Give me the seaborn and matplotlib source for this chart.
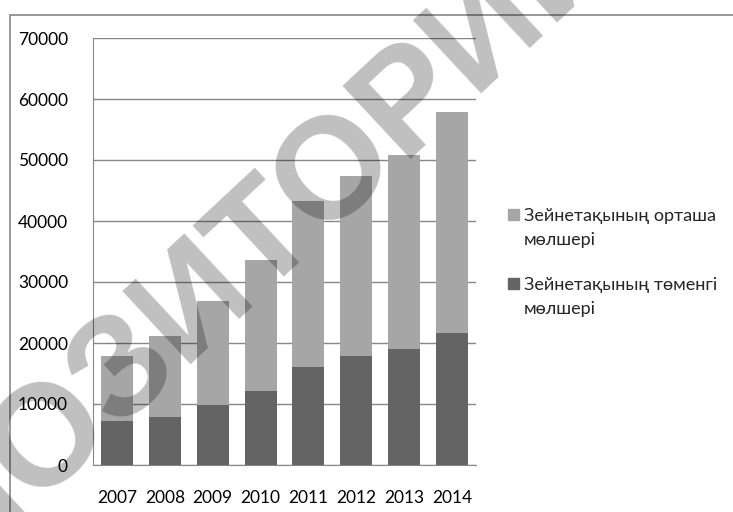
import numpy as np
import pandas as pd
import seaborn as sns
import matplotlib.pyplot as plt
from matplotlib.patches import Rectangle

#Data
years = ['2007', '2008', '2009', '2010', '2011', '2012', '2013', '2014']
min_pension = [7200, 7900, 9800, 12100, 16000, 17900, 19000, 21700]
avg_pension = [10700, 13250, 17100, 21500, 27300, 29500, 31800, 36200]
labels = ['Зейнетақының орташа\nмөлшері', 'Зейнетақының төменгі\nмөлшері']
colors = ['#a6a6a6', '#646464']

df = pd.DataFrame({'year': years, 'min': min_pension, 'avg': avg_pension})
df['total'] = df['min'] + df['avg']

sns.set_style('white')
plt.rcParams['font.family'] = ['Lato', 'DejaVu Sans']

fig = plt.figure(figsize=(7.33, 5.12), dpi=100)
ax = fig.add_axes([93 / 733, 47 / 512, 383 / 733, 427 / 512])

#Stacked bars: total first, then the lower part on top
sns.barplot(data=df, x='year', y='total', color=colors[0], width=0.67,
            saturation=1, linewidth=0, ax=ax, zorder=2)
sns.barplot(data=df, x='year', y='min', color=colors[1], width=0.67,
            saturation=1, linewidth=0, ax=ax, zorder=3)

ax.set_ylim(0, 70000)
ax.set_yticks(np.arange(0, 70001, 10000))
ax.set_xlabel('')
ax.set_ylabel('')
ax.yaxis.grid(True, color='#868686', linewidth=1)
ax.set_axisbelow(True)
for side in ['top', 'right']:
    ax.spines[side].set_visible(False)
for side in ['left', 'bottom']:
    ax.spines[side].set_color('#868686')
ax.tick_params(axis='both', length=0, labelsize=12.5, colors='black')
ax.tick_params(axis='y', pad=18)
ax.tick_params(axis='x', pad=18)

#Legend drawn by hand so the squares line up with the first text line
for i, (lab, col) in enumerate(zip(labels, colors)):
    y0 = 214 + i * 69
    fig.patches.append(Rectangle((508 / 733, 1 - (y0 + 6) / 512), 11 / 733, 11 / 512,
                                 transform=fig.transFigure, color=col))
    fig.text(524 / 733, 1 - (y0 + 14) / 512, lab, fontsize=13, va='center',
             linespacing=1.6)

#Outer chart frame
fig.patches.append(Rectangle((10 / 733, -0.1), 1.2, 1 - 15 / 512 + 0.1,
                             transform=fig.transFigure, fill=False,
                             edgecolor='#868686', linewidth=1.2))

#Watermark
fig.text(195 / 733, 1 - 300 / 512, 'РЕПОЗИТОРИЙ', fontsize=104, rotation=43,
         color='black', alpha=0.25, ha='center', va='center', weight='bold',
         rotation_mode='anchor', family=['Liberation Sans', 'DejaVu Sans'],
         zorder=10)

fig.savefig('out.png', dpi=100)
